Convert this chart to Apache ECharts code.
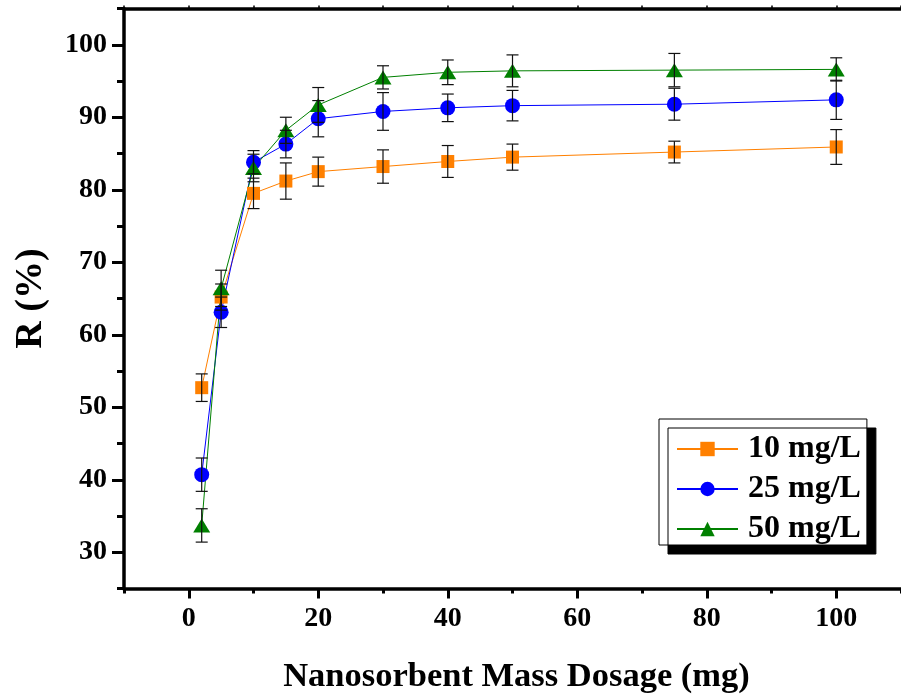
<!DOCTYPE html>
<html>
<head>
<meta charset="utf-8">
<script src="https://cdn.jsdelivr.net/npm/echarts@6/dist/echarts.min.js"></script>
<style>html,body{margin:0;padding:0;background:#fff;}#c{width:901px;height:700px;}</style>
</head>
<body>
<div id="c"></div>
<script>
// ---- data ----
var dosage = [2, 5, 10, 15, 20, 30, 40, 50, 75, 100];
var r10 = [52.7, 65.2, 79.5, 81.2, 82.5, 83.2, 83.9, 84.5, 85.2, 85.9];
var e10 = [1.9, 1.8, 2.1, 2.5, 2.0, 2.3, 2.2, 1.8, 1.5, 2.4];
var r25 = [40.7, 63.1, 83.8, 86.3, 89.8, 90.8, 91.3, 91.6, 91.8, 92.4];
var e25 = [2.3, 2.1, 1.6, 1.9, 2.5, 2.6, 1.9, 2.1, 2.2, 2.7];
var r50 = [33.7, 66.4, 83.0, 88.2, 91.7, 95.5, 96.2, 96.4, 96.5, 96.6];
var e50 = [2.3, 2.5, 1.9, 1.8, 2.4, 1.6, 1.7, 2.2, 2.3, 1.6];
var seriesNames = ['10 mg/L', '25 mg/L', '50 mg/L'];
var xTickLabels = [0, 20, 40, 60, 80, 100];
var yTickLabels = [30, 40, 50, 60, 70, 80, 90, 100];

var FONT = 'Liberation Serif';
var chart = echarts.init(document.getElementById('c'), null, {renderer: 'canvas'});

function pts(vals) { return dosage.map(function (x, i) { return [x, vals[i]]; }); }
function errData(vals, errs) { return dosage.map(function (x, i) { return [x, vals[i] - errs[i], vals[i] + errs[i]]; }); }
function errSeries(vals, errs) {
  return {
    type: 'custom', xAxisIndex: 0, yAxisIndex: 0, z: 4, silent: true,
    data: errData(vals, errs),
    encode: {x: 0, y: [1, 2]},
    renderItem: function (params, api) {
      var x = api.value(0);
      var lo = api.coord([x, api.value(1)]);
      var hi = api.coord([x, api.value(2)]);
      var w = 6;
      var st = {stroke: '#111', lineWidth: 1.2};
      return {type: 'group', children: [
        {type: 'line', shape: {x1: lo[0], y1: lo[1], x2: hi[0], y2: hi[1]}, style: st},
        {type: 'line', shape: {x1: lo[0] - w, y1: lo[1], x2: lo[0] + w, y2: lo[1]}, style: st},
        {type: 'line', shape: {x1: hi[0] - w, y1: hi[1], x2: hi[0] + w, y2: hi[1]}, style: st}
      ]};
    }
  };
}

var labelStyle = {fontFamily: FONT, fontWeight: 'bold', fontSize: 28, color: '#000'};

var option = {
  animation: false,
  backgroundColor: '#fff',
  grid: {left: 124, top: 8.5, width: 780, height: 580, containLabel: false},
  legend: {
    orient: 'vertical', left: 659, top: 419,
    itemWidth: 61, itemHeight: 18, itemGap: 8,
    padding: [14, 6, 0, 17],
    backgroundColor: '#fff', borderColor: '#000', borderWidth: 1,
    shadowColor: '#000', shadowOffsetX: 9, shadowOffsetY: 9, shadowBlur: 0,
    textStyle: {fontFamily: FONT, fontWeight: 'bold', fontSize: 32, color: '#000', padding: [0, 0, 0, 5]},
    data: seriesNames
  },
  xAxis: [
    {
      type: 'value', min: -10, max: 110, position: 'bottom',
      axisLine: {onZero: false, lineStyle: {color: '#000', width: 3.5}},
      axisTick: {customValues: xTickLabels, length: 10, lineStyle: {color: '#000', width: 3}},
      axisLabel: Object.assign({customValues: xTickLabels, margin: 16}, labelStyle),
      splitLine: {show: false},
      name: 'Nanosorbent Mass Dosage (mg)', nameLocation: 'middle', nameGap: 71,
      nameTextStyle: {fontFamily: FONT, fontWeight: 'bold', fontSize: 34.5, color: '#000', padding: [0, 0, 0, 8]}
    },
    {
      type: 'value', min: -10, max: 110, interval: 10, position: 'bottom',
      axisLine: {show: false, onZero: false},
      axisTick: {length: 5, lineStyle: {color: '#000', width: 3}},
      axisLabel: {show: false}, splitLine: {show: false}
    },
    {
      type: 'value', min: -10, max: 110, interval: 10, position: 'top',
      axisLine: {onZero: false, lineStyle: {color: '#000', width: 3.5}},
      axisTick: {length: 3, lineStyle: {color: '#000', width: 1.5}},
      axisLabel: {show: false}, splitLine: {show: false}
    }
  ],
  yAxis: [
    {
      type: 'value', min: 25, max: 105, position: 'left',
      axisLine: {onZero: false, lineStyle: {color: '#000', width: 3.5}},
      axisTick: {customValues: yTickLabels, length: 12, lineStyle: {color: '#000', width: 3}},
      axisLabel: Object.assign({customValues: yTickLabels, margin: 17}, labelStyle),
      splitLine: {show: false},
      name: 'R (%)', nameLocation: 'middle', nameGap: 74,
      nameTextStyle: {fontFamily: FONT, fontWeight: 'bold', fontSize: 38, color: '#000'}
    },
    {
      type: 'value', min: 25, max: 105, interval: 5, position: 'left',
      axisLine: {show: false, onZero: false},
      axisTick: {length: 7, lineStyle: {color: '#000', width: 3}},
      axisLabel: {show: false}, splitLine: {show: false}
    }
  ],
  series: [
    {name: seriesNames[0], type: 'line', data: pts(r10), symbol: 'rect', symbolSize: 13,
     itemStyle: {color: '#FF8000'}, lineStyle: {color: '#FF8000', width: 1}},
    {name: seriesNames[1], type: 'line', data: pts(r25), symbol: 'circle', symbolSize: 15,
     itemStyle: {color: '#0000FF'}, lineStyle: {color: '#0000FF', width: 1}},
    {name: seriesNames[2], type: 'line', data: pts(r50), symbol: 'triangle', symbolSize: [17, 14],
     itemStyle: {color: '#008000'}, lineStyle: {color: '#008000', width: 1}},
    errSeries(r10, e10),
    errSeries(r25, e25),
    errSeries(r50, e50)
  ]
};
chart.setOption(option);
</script>
</body>
</html>
